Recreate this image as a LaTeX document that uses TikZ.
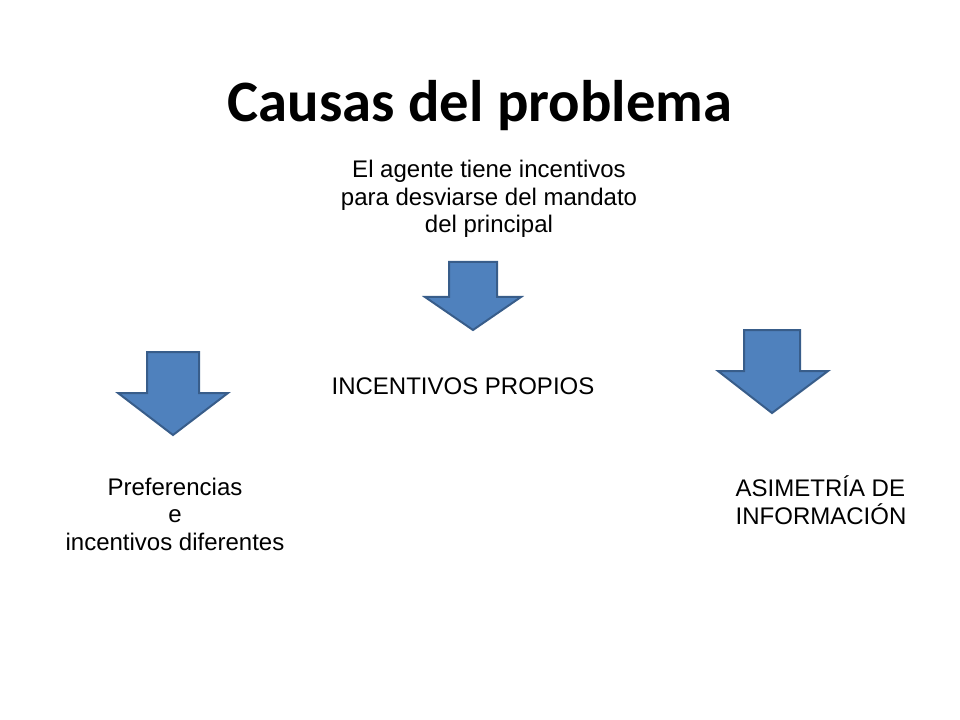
\documentclass[tikz,border=0pt]{standalone}
\usepackage{fontspec}
\setmainfont{Liberation Sans}
\newfontfamily\titlefont{Carlito}
\definecolor{af}{HTML}{4F81BD}
\definecolor{ab}{HTML}{385D8A}
\begin{document}
\begin{tikzpicture}[x=0.75pt,y=-0.75pt,
  txt/.style={font=\fontsize{18}{20.6}\selectfont,inner sep=0pt,align=center},
  downarrow/.style={fill=af,draw=ab,line width=1.5pt,line join=miter}]
\useasboundingbox (0,0) rectangle (960,720);
\node[font=\titlefont\bfseries\fontsize{44}{50}\selectfont] (title) at (480,106) {Causas del problema};
\node[txt] (top) at (489,199) {El agente tiene incentivos\\para desviarse del mandato\\del principal};
\node[txt] (mid) at (463,386) {INCENTIVOS PROPIOS};
\node[txt] (left) at (175,514) {Preferencias\\e\\incentivos diferentes};
\node[txt,align=left] (right) at (821,500) {ASIMETRÍA DE\\INFORMACIÓN};
\draw[downarrow] (449,262)--(497,262)--(497,297)--(521,297)--(473,330)--(425,297)--(449,297)--cycle;
\draw[downarrow] (147,352)--(199,352)--(199,393)--(228,393)--(173,435)--(118,393)--(147,393)--cycle;
\draw[downarrow] (744,330)--(800,330)--(800,371)--(828,371)--(772,413)--(718,371)--(744,371)--cycle;
\end{tikzpicture}
\end{document}
